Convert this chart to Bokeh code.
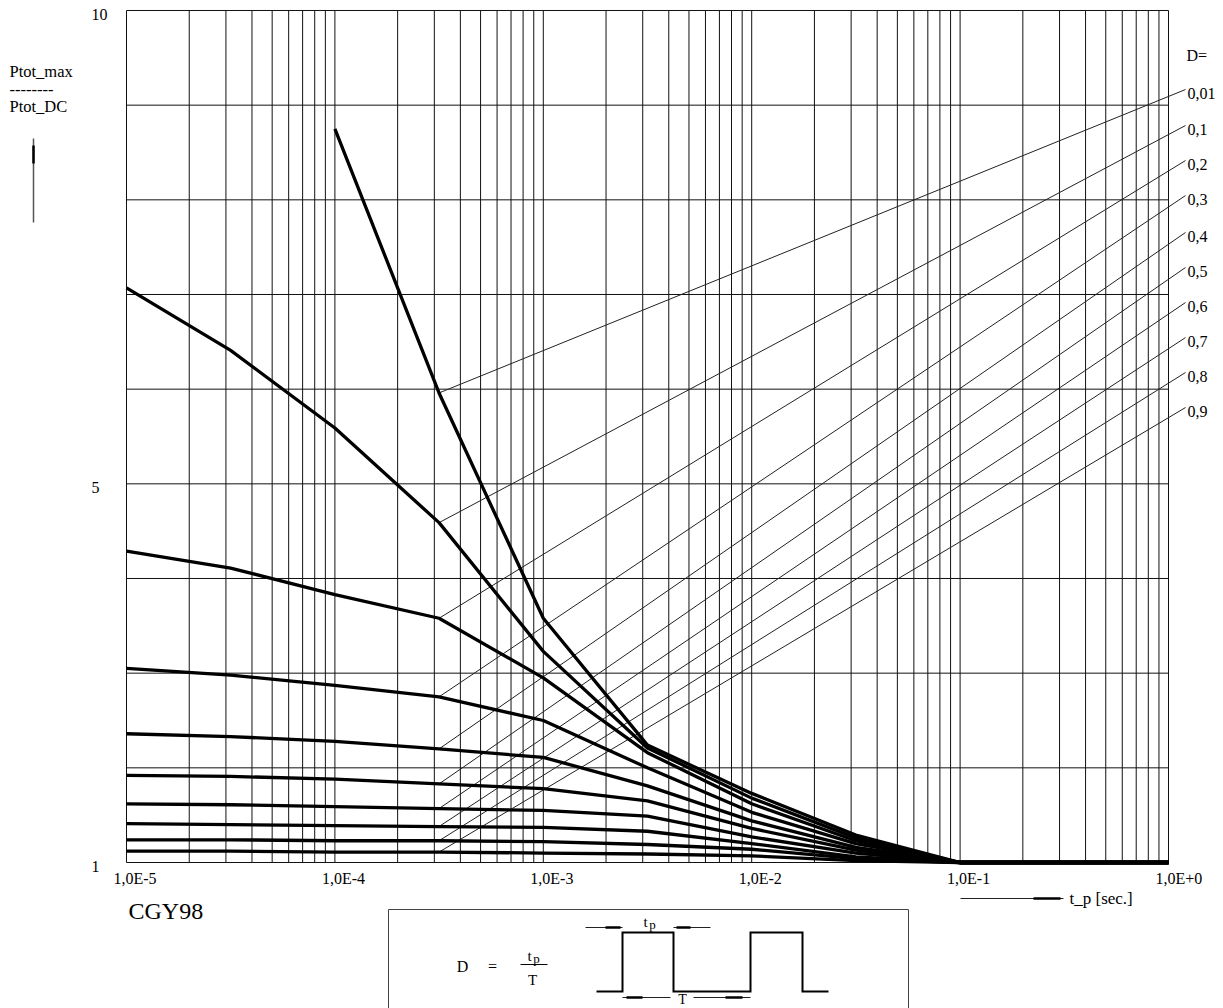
import numpy as np
from bokeh.plotting import figure
from bokeh.models import Range1d
from bokeh.core.properties import value
from bokeh.embed import file_html
from bokeh.resources import INLINE

# ---------------- data ----------------
t_p = [1e-5, 3.16e-5, 1e-4, 3.16e-4, 1e-3, 3.16e-3, 1e-2, 3.16e-2, 1e-1, 1.0]

duty_labels = ["0,01", "0,1", "0,2", "0,3", "0,4", "0,5", "0,6", "0,7", "0,8", "0,9"]

ratio_d001 = [None, None, 8.75, 5.96, 3.58, 2.24, 1.73, 1.29, 1.00, 1.00]
ratio_d01 = [7.07, 6.41, 5.59, 4.59, 3.23, 2.21, 1.68, 1.26, 1.00, 1.00]
ratio_d02 = [4.29, 4.11, 3.83, 3.58, 2.95, 2.16, 1.62, 1.23, 1.00, 1.00]
ratio_d03 = [3.05, 2.98, 2.87, 2.75, 2.50, 2.00, 1.53, 1.20, 1.00, 1.00]
ratio_d04 = [2.36, 2.33, 2.28, 2.20, 2.11, 1.81, 1.44, 1.16, 1.00, 1.00]
ratio_d05 = [1.92, 1.91, 1.88, 1.83, 1.78, 1.65, 1.36, 1.13, 1.00, 1.00]
ratio_d06 = [1.62, 1.61, 1.59, 1.57, 1.55, 1.49, 1.27, 1.10, 1.00, 1.00]
ratio_d07 = [1.41, 1.40, 1.39, 1.38, 1.37, 1.33, 1.20, 1.06, 1.00, 1.00]
ratio_d08 = [1.24, 1.24, 1.23, 1.23, 1.22, 1.19, 1.14, 1.04, 1.00, 1.00]
ratio_d09 = [1.12, 1.12, 1.11, 1.11, 1.10, 1.09, 1.07, 1.02, 1.00, 1.00]

curves = [ratio_d001, ratio_d01, ratio_d02, ratio_d03, ratio_d04,
          ratio_d05, ratio_d06, ratio_d07, ratio_d08, ratio_d09]

# end heights of the thin leader lines (value axis) at the D labels
label_end_y = [9.165, 8.785, 8.415, 8.045, 7.655, 7.285, 6.915, 6.545, 6.176, 5.806]

x_ticks = [1e-5, 1e-4, 1e-3, 1e-2, 1e-1, 1.0]
x_tick_labels = ["1,0E-5", "1,0E-4", "1,0E-3", "1,0E-2", "1,0E-1", "1,0E+0"]
y_ticks = [1, 5, 10]
y_tick_labels = ["1", "5", "10"]

# ---------------- layout helpers (pixel -> data) ----------------
W, H = 1223, 1008
X0PX, DEC = 126.0, 208.4      # px of 1e-5, px per decade
Y1PX, UNIT = 862.0, 94.667    # px of value 1, px per unit


def X(px):
    return 10 ** (-5 + (px - X0PX) / DEC)


def Y(py):
    return 1 + (Y1PX - py) / UNIT


FONT = value("Liberation Serif")

p = figure(width=W, height=H, x_axis_type="log",
           x_range=Range1d(X(0), X(W)), y_range=Range1d(Y(H), Y(0)),
           output_backend="svg", toolbar_location=None,
           x_axis_location=None, y_axis_location=None,
           min_border=0, outline_line_color=None, title=None)
p.grid.visible = False
p.background_fill_color = "white"
p.border_fill_color = "white"

# ---------------- grid ----------------
gx = []
for k in range(-5, 0):
    for m in range(1, 10):
        gx.append(m * 10.0 ** k)
gx.append(1.0)
p.segment(x0=gx, y0=[1] * len(gx), x1=gx, y1=[10] * len(gx),
          line_color="#111111", line_width=1)
gy = list(range(1, 11))
p.segment(x0=[1e-5] * len(gy), y0=gy, x1=[1.0] * len(gy), y1=gy,
          line_color="#111111", line_width=1)

# ---------------- leader lines + labels ----------------
x_lab_end = X(1185)
lead_x0, lead_y0 = [], []
for c in curves:
    lead_x0.append(t_p[3])
    lead_y0.append(c[3])
p.segment(x0=lead_x0, y0=lead_y0, x1=[x_lab_end] * len(curves), y1=label_end_y,
          line_color="#222222", line_width=1)

p.text(x=[X(1187)] * len(duty_labels), y=[e - 4 / UNIT for e in label_end_y],
       text=duty_labels, text_font=FONT, text_font_size="16px",
       text_align="left", text_baseline="middle", text_color="black")
p.text(x=[X(1186)], y=[Y(55)], text=["D="], text_font=FONT, text_font_size="16px",
       text_align="left", text_baseline="middle", text_color="black")

# ---------------- curves ----------------
for c in curves:
    xs = [t for t, v in zip(t_p, c) if v is not None]
    ys = [v for v in c if v is not None]
    p.line(xs, ys, line_color="black", line_width=3.3, line_join="round")

# ---------------- tick labels ----------------
p.text(x=x_ticks, y=[Y(878)] * len(x_ticks), text=x_tick_labels, x_offset=-13,
       text_font=FONT, text_font_size="16px", text_align="left",
       text_baseline="middle", text_color="black")
p.text(x=[X(91)] * len(y_ticks), y=[v - 4 / UNIT for v in y_ticks], text=y_tick_labels,
       text_font=FONT, text_font_size="16px", text_align="left",
       text_baseline="middle", text_color="black")

# ---------------- axis titles ----------------
p.text(x=[X(9)] * 3, y=[Y(71), Y(89), Y(106)],
       text=["Ptot_max", "--------", "Ptot_DC"], text_font=FONT,
       text_font_size="16.5px", text_align="left", text_baseline="middle",
       text_color="black")
p.segment(x0=[X(33)], y0=[Y(222)], x1=[X(33)], y1=[Y(138)],
          line_color="#555555", line_width=1.5)
p.segment(x0=[X(33)], y0=[Y(163)], x1=[X(33)], y1=[Y(145)],
          line_color="black", line_width=2.5)

p.segment(x0=[X(960)], y0=[Y(898)], x1=[X(1063)], y1=[Y(898)],
          line_color="#222222", line_width=1)
p.segment(x0=[X(1033)], y0=[Y(898)], x1=[X(1060)], y1=[Y(898)],
          line_color="black", line_width=2.5)
p.text(x=[X(1069)], y=[Y(898)], text=["t_p [sec.]"], text_font=FONT,
       text_font_size="17px", text_align="left", text_baseline="middle",
       text_color="black")

p.text(x=[X(128)], y=[Y(910)], text=["CGY98"], text_font=FONT,
       text_font_size="24px", text_align="left", text_baseline="middle",
       text_color="black")

# ---------------- duty-cycle box ----------------
p.segment(x0=[X(388), X(388), X(908)], y0=[Y(909), Y(909), Y(909)],
          x1=[X(908), X(388), X(908)], y1=[Y(909), Y(H + 5), Y(H + 5)],
          line_color="#444444", line_width=1)

p.text(x=[X(462), X(492)], y=[Y(966), Y(966)], text=["D", "="], text_font=FONT,
       text_font_size="16px", text_align="center", text_baseline="middle",
       text_color="black")
p.text(x=[X(529)], y=[Y(955)], text=["t"], text_font=FONT, text_font_size="15px",
       text_align="center", text_baseline="middle", text_color="black")
p.text(x=[X(536)], y=[Y(958)], text=["p"], text_font=FONT, text_font_size="13px",
       text_align="center", text_baseline="middle", text_color="black")
p.segment(x0=[X(520)], y0=[Y(964)], x1=[X(547)], y1=[Y(964)],
          line_color="black", line_width=1)
p.text(x=[X(532)], y=[Y(979)], text=["T"], text_font=FONT, text_font_size="15px",
       text_align="center", text_baseline="middle", text_color="black")

wave_px = [596, 622, 622, 673, 673, 750, 750, 802, 802, 828]
wave_py = [991, 991, 932, 932, 991, 991, 932, 932, 991, 991]
p.line([X(v) for v in wave_px], [Y(v) for v in wave_py], line_color="black",
       line_width=2, line_join="miter")

# dimension arrows
p.segment(x0=[X(585), X(673), X(622), X(693)], y0=[Y(927), Y(927), Y(997), Y(997)],
          x1=[X(622), X(710), X(670), X(750)], y1=[Y(927), Y(927), Y(997), Y(997)],
          line_color="#222222", line_width=1)
p.segment(x0=[X(605), X(676), X(626), X(725)], y0=[Y(927), Y(927), Y(997), Y(997)],
          x1=[X(620), X(690), X(642), X(742)], y1=[Y(927), Y(927), Y(997), Y(997)],
          line_color="black", line_width=2.5)
p.text(x=[X(645)], y=[Y(921)], text=["t"], text_font=FONT, text_font_size="15px",
       text_align="center", text_baseline="middle", text_color="black")
p.text(x=[X(652)], y=[Y(924)], text=["p"], text_font=FONT, text_font_size="13px",
       text_align="center", text_baseline="middle", text_color="black")
p.text(x=[X(682)], y=[Y(999)], text=["T"], text_font=FONT, text_font_size="14px",
       text_align="center", text_baseline="middle", text_color="black")

open("out.html", "w").write(file_html(p, INLINE))
